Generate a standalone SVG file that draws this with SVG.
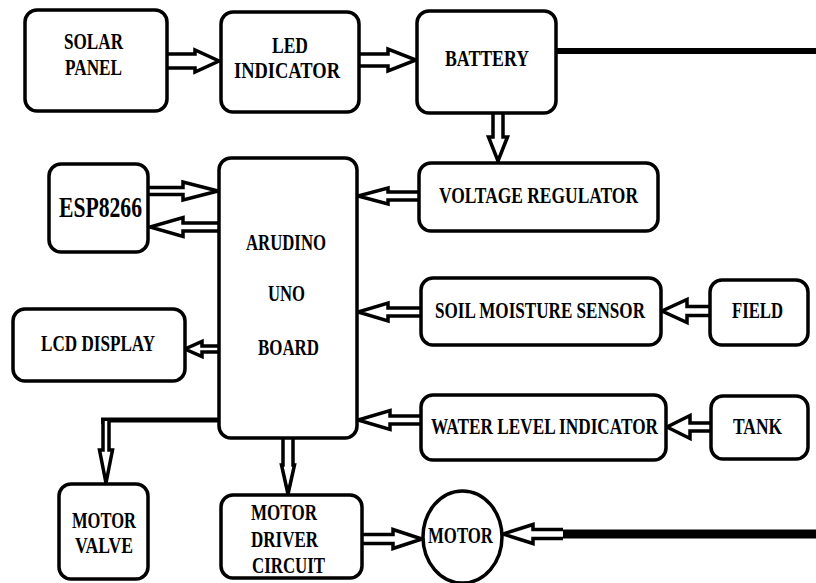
<svg xmlns="http://www.w3.org/2000/svg" width="816" height="583" viewBox="0 0 816 583">
<style>
.box{fill:#fff;stroke:#000;stroke-width:3.5}
.t{font-family:'Liberation Serif','Times New Roman',Times,'DejaVu Serif',serif;font-weight:700;font-size:24px;fill:#000}
.long{font-size:22.5px}
.big{font-size:30px}
.ar{fill:#fff;stroke:#000;stroke-width:3.5;stroke-linejoin:miter}
.thick{fill:none;stroke:#000}
</style>
<rect width="816" height="583" fill="#fff"/>
<g id="connectors">
<line class="thick" x1="556" y1="51" x2="816" y2="51" stroke-width="6"/>
<line class="thick" x1="563" y1="534" x2="816" y2="534" stroke-width="9"/>
<polyline class="thick" points="219,420 103.5,420 103.5,424" stroke-width="5"/>
<path class="ar" d="M167,54 L195,54 L195,50 L219,61 L195,72 L195,68 L167,68"/>
<path class="ar" d="M359,54 L388,54 L388,49 L416,60 L388,71 L388,66 L359,66"/>
<path class="ar" d="M493,113 L493,137 L488.5,137 L498,161 L507.5,137 L503,137 L503,113"/>
<path class="ar" d="M419,192 L388,192 L388,188 L358,196 L388,204 L388,200 L419,200"/>
<path class="ar" d="M148,187.5 L183,187.5 L183,182 L218,191 L183,200 L183,194.5 L148,194.5"/>
<path class="ar" d="M218,223 L183,223 L183,217.5 L150,227 L183,236.5 L183,231 L218,231"/>
<path class="ar" d="M421,308 L388,308 L388,303 L358,312 L388,321 L388,316 L421,316"/>
<path class="ar" d="M710,306.5 L687,306.5 L687,299.5 L662,311 L687,322.5 L687,315.5 L710,315.5"/>
<path class="ar" d="M219,346 L202,346 L202,341.5 L185,349 L202,356.5 L202,352 L219,352"/>
<path class="ar" d="M421,416 L390,416 L390,410.5 L358,420 L390,429.5 L390,424 L421,424"/>
<path class="ar" d="M711,423 L690,423 L690,415.5 L667,427 L690,438.5 L690,431 L711,431"/>
<path class="ar" d="M103,421 L103,450 L99.5,450 L106,483 L112.5,450 L109,450 L109,421"/>
<path class="ar" d="M283,438 L283,465 L281.5,465 L288,494 L294.5,465 L293,465 L293,438"/>
<path class="ar" d="M362,534.5 L393,534.5 L393,529.5 L422,539 L393,548.5 L393,543.5 L362,543.5"/>
<path class="ar" d="M563,529.5 L533,529.5 L533,524.5 L503,534 L533,543.5 L533,538.5 L563,538.5"/>
</g>
<g id="solar-panel">
<rect class="box" x="25" y="10" width="142" height="101" rx="12"/>
<text class="t" x="64" y="49" textLength="59" lengthAdjust="spacingAndGlyphs">SOLAR</text>
<text class="t" x="65" y="75" textLength="57" lengthAdjust="spacingAndGlyphs">PANEL</text>
</g>
<g id="led-indicator">
<rect class="box" x="221" y="12" width="138" height="100" rx="12"/>
<text class="t" x="272" y="53" textLength="36" lengthAdjust="spacingAndGlyphs">LED</text>
<text class="t" x="234" y="78" textLength="106" lengthAdjust="spacingAndGlyphs">INDICATOR</text>
</g>
<g id="battery">
<rect class="box" x="417" y="11" width="139" height="102" rx="12"/>
<text class="t" x="445" y="66" textLength="84" lengthAdjust="spacingAndGlyphs">BATTERY</text>
</g>
<g id="voltage-regulator">
<rect class="box" x="419" y="163" width="239" height="68" rx="12"/>
<text class="t" x="439" y="203" textLength="199" lengthAdjust="spacingAndGlyphs">VOLTAGE REGULATOR</text>
</g>
<g id="esp8266">
<rect class="box" x="49" y="164" width="99" height="88" rx="12"/>
<text class="t big" x="59" y="217" textLength="83" lengthAdjust="spacingAndGlyphs">ESP8266</text>
</g>
<g id="arduino">
<rect class="box" x="219" y="158" width="138" height="280" rx="12"/>
<text class="t" x="246" y="250" textLength="80" lengthAdjust="spacingAndGlyphs">ARUDINO</text>
<text class="t" x="268" y="301" textLength="37" lengthAdjust="spacingAndGlyphs">UNO</text>
<text class="t" x="258" y="355" textLength="61" lengthAdjust="spacingAndGlyphs">BOARD</text>
</g>
<g id="soil-moisture-sensor">
<rect class="box" x="421" y="278" width="240" height="67" rx="12"/>
<text class="t long" x="435" y="318" textLength="210" lengthAdjust="spacingAndGlyphs">SOIL MOISTURE SENSOR</text>
</g>
<g id="field">
<rect class="box" x="710" y="280" width="98" height="65" rx="12"/>
<text class="t" x="732" y="318" textLength="51" lengthAdjust="spacingAndGlyphs">FIELD</text>
</g>
<g id="lcd-display">
<rect class="box" x="13" y="309" width="172" height="72" rx="12"/>
<text class="t" x="41" y="351" textLength="114" lengthAdjust="spacingAndGlyphs">LCD DISPLAY</text>
</g>
<g id="water-level-indicator">
<rect class="box" x="421" y="395" width="245" height="65" rx="12"/>
<text class="t long" x="431" y="434" textLength="227" lengthAdjust="spacingAndGlyphs">WATER LEVEL INDICATOR</text>
</g>
<g id="tank">
<rect class="box" x="711" y="396" width="97" height="63" rx="12"/>
<text class="t" x="733" y="434" textLength="49" lengthAdjust="spacingAndGlyphs">TANK</text>
</g>
<g id="motor-valve">
<rect class="box" x="59" y="484" width="89" height="95" rx="12"/>
<text class="t" x="72" y="528" textLength="64" lengthAdjust="spacingAndGlyphs">MOTOR</text>
<text class="t" x="75" y="553" textLength="58" lengthAdjust="spacingAndGlyphs">VALVE</text>
</g>
<g id="motor-driver-circuit">
<rect class="box" x="221" y="495" width="141" height="83" rx="12"/>
<text class="t" x="251" y="520" textLength="66" lengthAdjust="spacingAndGlyphs">MOTOR</text>
<text class="t" x="251" y="547" textLength="67" lengthAdjust="spacingAndGlyphs">DRIVER</text>
<text class="t" x="252" y="573" textLength="73" lengthAdjust="spacingAndGlyphs">CIRCUIT</text>
</g>
<g id="motor">
<ellipse class="box" cx="462.5" cy="537" rx="39.5" ry="46"/>
<text class="t" x="428" y="543" textLength="65" lengthAdjust="spacingAndGlyphs">MOTOR</text>
</g>
</svg>
